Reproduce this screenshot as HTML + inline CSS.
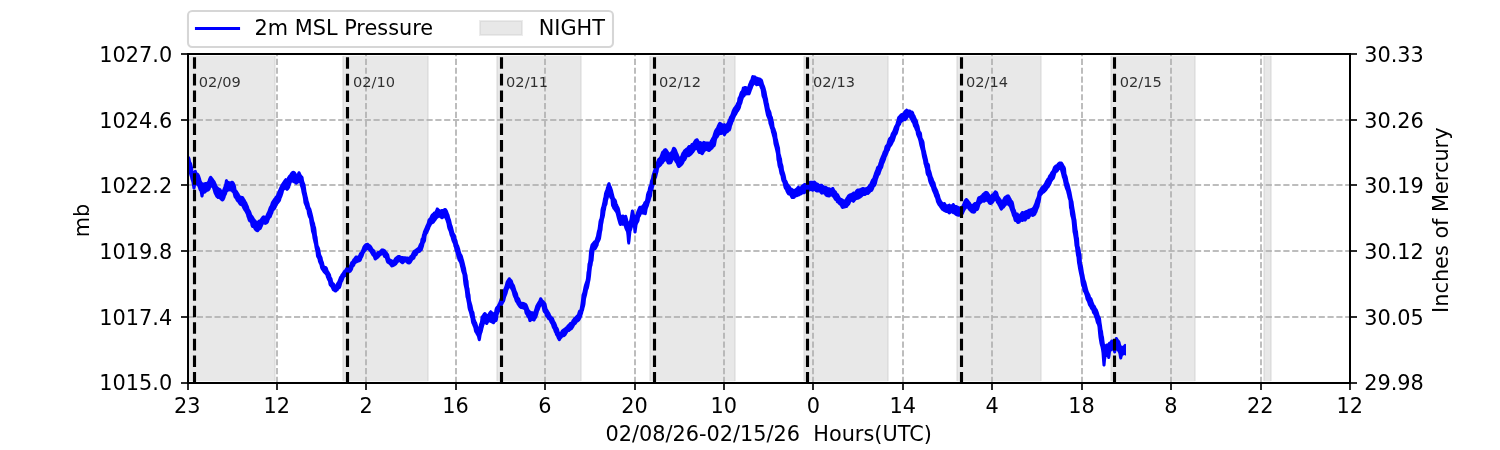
<!DOCTYPE html>
<html lang="en"><head><meta charset="utf-8"><title>2m MSL Pressure</title>
<style>html,body{margin:0;padding:0;background:#fff}body{width:1500px;height:450px;overflow:hidden}svg{display:block}text{font-family:"DejaVu Sans","Liberation Sans",sans-serif;font-size:20.8333px;fill:#000}.d{font-size:14.5833px;fill-opacity:.8}</style></head><body>
<svg width="1500" height="450" viewBox="0 0 1500 450">
<rect x="0" y="0" width="1500" height="450" fill="#fff"/>
<defs><clipPath id="c"><rect x="188" y="54" width="1162" height="329"/></clipPath></defs>
<g clip-path="url(#c)" shape-rendering="crispEdges" fill="#808080" fill-opacity=".18">
<rect x="187" y="56" width="88" height="325"/>
<rect x="187" y="55" width="88" height="1" fill-opacity=".05"/><rect x="187" y="381" width="88" height="1" fill-opacity=".05"/>
<rect x="186" y="56" width="1" height="325" fill-opacity=".15"/><rect x="187" y="56" width="1" height="325" fill-opacity=".1"/>
<rect x="274" y="56" width="1" height="325" fill-opacity=".1"/><rect x="275" y="56" width="1" height="325" fill-opacity=".15"/>
<rect x="343" y="56" width="85" height="325"/>
<rect x="343" y="55" width="85" height="1" fill-opacity=".05"/><rect x="343" y="381" width="85" height="1" fill-opacity=".05"/>
<rect x="342" y="56" width="1" height="325" fill-opacity=".15"/><rect x="343" y="56" width="1" height="325" fill-opacity=".1"/>
<rect x="427" y="56" width="1" height="325" fill-opacity=".1"/><rect x="428" y="56" width="1" height="325" fill-opacity=".15"/>
<rect x="497" y="56" width="84" height="325"/>
<rect x="497" y="55" width="84" height="1" fill-opacity=".05"/><rect x="497" y="381" width="84" height="1" fill-opacity=".05"/>
<rect x="496" y="56" width="1" height="325" fill-opacity=".15"/><rect x="497" y="56" width="1" height="325" fill-opacity=".1"/>
<rect x="580" y="56" width="1" height="325" fill-opacity=".1"/><rect x="581" y="56" width="1" height="325" fill-opacity=".15"/>
<rect x="650" y="56" width="85" height="325"/>
<rect x="650" y="55" width="85" height="1" fill-opacity=".05"/><rect x="650" y="381" width="85" height="1" fill-opacity=".05"/>
<rect x="649" y="56" width="1" height="325" fill-opacity=".15"/><rect x="650" y="56" width="1" height="325" fill-opacity=".1"/>
<rect x="734" y="56" width="1" height="325" fill-opacity=".1"/><rect x="735" y="56" width="1" height="325" fill-opacity=".15"/>
<rect x="804" y="56" width="84" height="325"/>
<rect x="804" y="55" width="84" height="1" fill-opacity=".05"/><rect x="804" y="381" width="84" height="1" fill-opacity=".05"/>
<rect x="803" y="56" width="1" height="325" fill-opacity=".15"/><rect x="804" y="56" width="1" height="325" fill-opacity=".1"/>
<rect x="887" y="56" width="1" height="325" fill-opacity=".1"/><rect x="888" y="56" width="1" height="325" fill-opacity=".15"/>
<rect x="957" y="56" width="84" height="325"/>
<rect x="957" y="55" width="84" height="1" fill-opacity=".05"/><rect x="957" y="381" width="84" height="1" fill-opacity=".05"/>
<rect x="956" y="56" width="1" height="325" fill-opacity=".15"/><rect x="957" y="56" width="1" height="325" fill-opacity=".1"/>
<rect x="1040" y="56" width="1" height="325" fill-opacity=".1"/><rect x="1041" y="56" width="1" height="325" fill-opacity=".15"/>
<rect x="1111" y="56" width="84" height="325"/>
<rect x="1111" y="55" width="84" height="1" fill-opacity=".05"/><rect x="1111" y="381" width="84" height="1" fill-opacity=".05"/>
<rect x="1110" y="56" width="1" height="325" fill-opacity=".15"/><rect x="1111" y="56" width="1" height="325" fill-opacity=".1"/>
<rect x="1194" y="56" width="1" height="325" fill-opacity=".1"/><rect x="1195" y="56" width="1" height="325" fill-opacity=".15"/>
<rect x="1264" y="56" width="7" height="325"/>
<rect x="1264" y="55" width="7" height="1" fill-opacity=".05"/><rect x="1264" y="381" width="7" height="1" fill-opacity=".05"/>
<rect x="1263" y="56" width="1" height="325" fill-opacity=".15"/><rect x="1264" y="56" width="1" height="325" fill-opacity=".1"/>
<rect x="1270" y="56" width="1" height="325" fill-opacity=".1"/><rect x="1271" y="56" width="1" height="325" fill-opacity=".15"/>
</g>
<g clip-path="url(#c)" fill="none" stroke="#b0b0b0" stroke-opacity=".835" stroke-width="2" stroke-dasharray="6.1667 2.6667">
<path d="M188 383V54"/>
<path d="M277 383V54"/>
<path d="M366 383V54"/>
<path d="M456 383V54"/>
<path d="M545 383V54"/>
<path d="M635 383V54"/>
<path d="M724 383V54"/>
<path d="M813 383V54"/>
<path d="M903 383V54"/>
<path d="M992 383V54"/>
<path d="M1082 383V54"/>
<path d="M1171 383V54"/>
<path d="M1261 383V54"/>
<path d="M1350 383V54"/>
<path d="M188 383H1350"/>
<path d="M188 317H1350"/>
<path d="M188 251H1350"/>
<path d="M188 185H1350"/>
<path d="M188 120H1350"/>
<path d="M188 54H1350"/>
</g>
<polygon clip-path="url(#c)" fill="#0000ff" points="186.0,159.5 186.5,157.4 187.0,156.4 187.5,155.9 188.0,155.7 188.5,155.7 189.0,156.1 189.5,156.6 190.0,157.3 190.5,158.5 191.0,161.4 191.5,162.2 192.0,163.3 192.5,165.3 193.0,167.5 193.5,171.2 194.0,170.4 194.5,169.9 195.0,169.7 195.5,169.7 196.0,169.9 196.5,170.3 197.0,171.7 197.5,172.7 198.0,172.8 198.5,173.2 199.0,173.6 199.5,174.4 200.0,175.6 200.5,177.0 201.0,178.5 201.5,180.4 202.0,181.5 202.5,182.2 203.0,182.6 203.5,182.5 204.0,182.4 204.5,182.3 205.0,182.1 205.5,182.1 206.0,182.1 206.5,182.1 207.0,181.5 207.5,181.1 208.0,179.3 208.5,177.9 209.0,177.1 209.5,176.3 210.0,175.9 210.5,175.8 211.0,175.8 211.5,176.0 212.0,176.4 212.5,177.2 213.0,177.7 213.5,178.4 214.0,179.3 214.5,179.9 215.0,180.5 215.5,181.2 216.0,182.4 216.5,183.6 217.0,184.9 217.5,185.9 218.0,186.5 218.5,187.0 219.0,187.4 219.5,187.7 220.0,188.0 220.5,188.3 221.0,188.6 221.5,189.2 222.0,190.3 222.5,188.9 223.0,187.8 223.5,186.6 224.0,185.0 224.5,183.0 225.0,180.0 225.5,179.4 226.0,179.2 226.5,179.1 227.0,179.2 227.5,179.6 228.0,180.5 228.5,181.0 229.0,181.0 229.5,181.2 230.0,181.4 230.5,181.3 231.0,181.0 231.5,180.8 232.0,180.7 232.5,180.8 233.0,180.9 233.5,181.2 234.0,181.8 234.5,182.6 235.0,183.6 235.5,184.8 236.0,186.2 236.5,189.5 237.0,189.9 237.5,190.4 238.0,191.2 238.5,192.2 239.0,192.8 239.5,193.7 240.0,194.7 240.5,195.4 241.0,195.7 241.5,195.8 242.0,196.0 242.5,196.0 243.0,196.1 243.5,196.4 244.0,197.1 244.5,197.9 245.0,198.7 245.5,199.5 246.0,200.6 246.5,201.5 247.0,202.1 247.5,203.2 248.0,204.5 248.5,205.6 249.0,206.8 249.5,208.7 250.0,209.4 250.5,210.3 251.0,211.2 251.5,212.5 252.0,214.2 252.5,214.9 253.0,215.6 253.5,216.3 254.0,217.1 254.5,217.9 255.0,218.7 255.5,219.3 256.0,219.9 256.5,220.4 257.0,220.7 257.5,220.7 258.0,220.2 258.5,219.8 259.0,219.6 259.5,219.4 260.0,218.9 260.5,218.1 261.0,217.4 261.5,216.7 262.0,216.1 262.5,215.7 263.0,215.4 263.5,215.3 264.0,215.4 264.5,215.6 265.0,215.8 265.5,215.6 266.0,213.9 266.5,212.9 267.0,212.0 267.5,210.9 268.0,209.5 268.5,208.0 269.0,206.8 269.5,206.1 270.0,205.3 270.5,203.5 271.0,202.1 271.5,201.3 272.0,200.5 272.5,199.7 273.0,199.0 273.5,198.3 274.0,197.7 274.5,196.9 275.0,196.1 275.5,195.7 276.0,195.3 276.5,193.7 277.0,192.8 277.5,191.3 278.0,190.2 278.5,189.2 279.0,188.1 279.5,187.1 280.0,185.9 280.5,184.8 281.0,183.9 281.5,183.2 282.0,182.5 282.5,181.8 283.0,180.9 283.5,180.2 284.0,179.5 284.5,178.9 285.0,178.3 285.5,178.1 286.0,178.3 286.5,178.5 287.0,177.6 287.5,176.7 288.0,175.8 288.5,175.2 289.0,174.7 289.5,174.3 290.0,173.2 290.5,172.5 291.0,171.9 291.5,171.4 292.0,171.1 292.5,170.9 293.0,170.8 293.5,170.7 294.0,170.9 294.5,171.1 295.0,171.4 295.5,171.8 296.0,172.4 296.5,173.5 297.0,173.7 297.5,172.2 298.0,171.5 298.5,171.2 299.0,171.2 299.5,171.2 300.0,171.5 300.5,172.2 301.0,173.6 301.5,174.6 302.0,175.3 302.5,175.7 303.0,176.2 303.5,177.1 304.0,180.5 304.5,182.0 305.0,183.2 305.5,184.4 306.0,187.9 306.5,191.6 307.0,193.6 307.5,196.0 308.0,197.8 308.5,200.6 309.0,202.1 309.5,203.6 310.0,205.9 310.5,207.4 311.0,208.1 311.5,209.5 312.0,211.5 312.5,213.2 313.0,215.4 313.5,217.4 314.0,220.2 314.5,221.9 315.0,223.1 315.5,225.9 316.0,226.9 316.5,230.3 317.0,235.2 317.5,236.7 318.0,240.9 318.5,245.0 319.0,246.3 319.5,247.1 320.0,248.5 320.5,250.5 321.0,254.1 321.5,255.2 322.0,256.2 322.5,257.3 323.0,259.9 323.5,261.2 324.0,262.5 324.5,265.3 325.0,265.7 325.5,265.9 326.0,266.1 326.5,266.3 327.0,266.7 327.5,267.3 328.0,268.6 328.5,270.2 329.0,270.9 329.5,271.8 330.0,272.7 330.5,273.4 331.0,274.5 331.5,276.9 332.0,277.5 332.5,278.5 333.0,281.0 333.5,282.3 334.0,282.5 334.5,282.9 335.0,283.6 335.5,284.7 336.0,283.6 336.5,282.6 337.0,282.0 337.5,280.9 338.0,279.7 338.5,278.4 339.0,277.0 339.5,276.3 340.0,275.8 340.5,274.4 341.0,273.8 341.5,273.2 342.0,272.4 342.5,271.7 343.0,270.9 343.5,270.2 344.0,269.8 344.5,269.5 345.0,268.6 345.5,267.7 346.0,267.0 346.5,266.7 347.0,266.6 347.5,266.7 348.0,267.0 348.5,266.2 349.0,265.3 349.5,264.6 350.0,262.7 350.5,261.7 351.0,261.2 351.5,261.0 352.0,259.9 352.5,259.1 353.0,258.5 353.5,257.9 354.0,257.2 354.5,256.6 355.0,256.1 355.5,255.6 356.0,255.5 356.5,255.5 357.0,255.6 357.5,255.8 358.0,255.4 358.5,254.4 359.0,253.3 359.5,252.4 360.0,252.0 360.5,251.7 361.0,250.5 361.5,249.3 362.0,247.9 362.5,246.6 363.0,245.8 363.5,245.1 364.0,244.4 364.5,243.9 365.0,243.6 365.5,243.3 366.0,243.1 366.5,242.9 367.0,242.8 367.5,242.7 368.0,242.8 368.5,243.1 369.0,243.5 369.5,244.0 370.0,244.3 370.5,244.6 371.0,245.0 371.5,245.5 372.0,246.2 372.5,247.1 373.0,248.0 373.5,248.8 374.0,249.1 374.5,249.4 375.0,250.0 375.5,251.0 376.0,252.7 376.5,251.9 377.0,251.4 377.5,251.1 378.0,250.9 378.5,250.9 379.0,250.9 379.5,250.3 380.0,249.7 380.5,249.2 381.0,248.8 381.5,248.5 382.0,248.3 382.5,248.4 383.0,248.5 383.5,248.6 384.0,248.8 384.5,249.0 385.0,249.3 385.5,249.6 386.0,250.2 386.5,250.9 387.0,251.4 387.5,252.0 388.0,252.7 388.5,253.4 389.0,254.1 389.5,256.1 390.0,258.2 390.5,258.6 391.0,258.9 391.5,259.1 392.0,259.5 392.5,259.8 393.0,259.5 393.5,259.5 394.0,258.2 394.5,257.6 395.0,257.2 395.5,256.7 396.0,256.3 396.5,255.9 397.0,255.5 397.5,255.3 398.0,255.1 398.5,255.0 399.0,255.0 399.5,255.0 400.0,255.1 400.5,255.4 401.0,255.7 401.5,256.1 402.0,256.1 402.5,256.0 403.0,256.1 403.5,256.2 404.0,256.2 404.5,256.2 405.0,256.3 405.5,256.3 406.0,256.4 406.5,256.5 407.0,256.5 407.5,256.6 408.0,256.6 408.5,256.7 409.0,256.8 409.5,255.7 410.0,255.2 410.5,254.9 411.0,254.3 411.5,252.9 412.0,252.1 412.5,251.3 413.0,250.6 413.5,250.1 414.0,249.8 414.5,249.4 415.0,249.1 415.5,248.7 416.0,248.3 416.5,247.9 417.0,247.6 417.5,247.3 418.0,246.5 418.5,245.0 419.0,244.1 419.5,243.1 420.0,242.5 420.5,238.9 421.0,238.1 421.5,237.4 422.0,234.4 422.5,233.6 423.0,231.3 423.5,230.2 424.0,229.1 424.5,228.0 425.0,226.8 425.5,225.5 426.0,224.6 426.5,223.6 427.0,221.9 427.5,219.8 428.0,218.9 428.5,218.3 429.0,218.0 429.5,217.2 430.0,216.1 430.5,215.1 431.0,214.3 431.5,213.7 432.0,213.3 432.5,212.9 433.0,212.3 433.5,211.8 434.0,211.6 434.5,211.5 435.0,210.4 435.5,209.4 436.0,208.1 436.5,207.6 437.0,207.4 437.5,207.4 438.0,207.6 438.5,207.9 439.0,208.6 439.5,209.0 440.0,209.2 440.5,209.5 441.0,209.3 441.5,209.0 442.0,208.9 442.5,209.1 443.0,208.9 443.5,208.5 444.0,208.2 444.5,207.9 445.0,207.9 445.5,208.0 446.0,208.2 446.5,208.6 447.0,209.2 447.5,210.0 448.0,211.1 448.5,212.4 449.0,213.7 449.5,214.7 450.0,216.9 450.5,218.5 451.0,219.7 451.5,222.1 452.0,224.4 452.5,225.6 453.0,227.2 453.5,229.3 454.0,231.2 454.5,233.0 455.0,233.6 455.5,234.3 456.0,235.6 456.5,238.4 457.0,239.3 457.5,240.6 458.0,243.0 458.5,244.4 459.0,245.3 459.5,246.7 460.0,248.2 460.5,250.3 461.0,251.9 461.5,253.4 462.0,254.3 462.5,255.1 463.0,256.5 463.5,258.4 464.0,259.9 464.5,261.9 465.0,264.1 465.5,266.2 466.0,267.9 466.5,271.2 467.0,273.6 467.5,274.9 468.0,279.5 468.5,280.8 469.0,286.9 469.5,288.2 470.0,293.1 470.5,294.8 471.0,300.3 471.5,302.0 472.0,303.7 472.5,305.5 473.0,308.1 473.5,310.5 474.0,311.2 474.5,312.5 475.0,316.3 475.5,319.0 476.0,320.3 476.5,321.4 477.0,322.2 477.5,323.7 478.0,325.4 478.5,326.9 479.0,324.3 479.5,322.9 480.0,321.8 480.5,317.5 481.0,316.1 481.5,315.4 482.0,314.9 482.5,314.1 483.0,313.2 483.5,312.7 484.0,312.2 484.5,312.0 485.0,311.9 485.5,312.2 486.0,312.6 486.5,313.0 487.0,314.1 487.5,314.0 488.0,313.1 488.5,312.2 489.0,311.4 489.5,310.9 490.0,310.4 490.5,310.1 491.0,310.2 491.5,310.5 492.0,311.0 492.5,311.4 493.0,311.8 493.5,312.1 494.0,312.4 494.5,309.6 495.0,307.8 495.5,306.9 496.0,306.3 496.5,306.1 497.0,305.2 497.5,304.0 498.0,303.3 498.5,302.1 499.0,300.7 499.5,299.2 500.0,297.8 500.5,297.1 501.0,296.3 501.5,294.9 502.0,293.9 502.5,291.8 503.0,289.8 503.5,288.6 504.0,287.4 504.5,286.0 505.0,284.4 505.5,282.2 506.0,281.1 506.5,280.3 507.0,279.6 507.5,278.8 508.0,277.8 508.5,277.4 509.0,277.2 509.5,277.2 510.0,277.3 510.5,277.7 511.0,278.4 511.5,278.9 512.0,279.4 512.5,280.1 513.0,281.3 513.5,282.9 514.0,283.7 514.5,284.5 515.0,285.6 515.5,287.2 516.0,288.8 516.5,290.6 517.0,291.6 517.5,292.6 518.0,293.7 518.5,296.3 519.0,297.2 519.5,297.6 520.0,298.3 520.5,299.6 521.0,301.1 521.5,301.8 522.0,301.9 522.5,301.7 523.0,301.8 523.5,301.9 524.0,302.0 524.5,302.2 525.0,302.5 525.5,302.7 526.0,302.9 526.5,303.2 527.0,303.7 527.5,304.6 528.0,305.7 528.5,307.1 529.0,308.6 529.5,309.6 530.0,310.3 530.5,310.5 531.0,311.0 531.5,311.2 532.0,311.1 532.5,311.2 533.0,311.5 533.5,311.6 534.0,310.1 534.5,308.4 535.0,306.8 535.5,305.2 536.0,304.4 536.5,303.6 537.0,302.7 537.5,301.8 538.0,301.2 538.5,300.3 539.0,298.8 539.5,297.7 540.0,297.3 540.5,297.2 541.0,297.2 541.5,297.4 542.0,297.8 542.5,298.8 543.0,299.7 543.5,300.0 544.0,300.4 544.5,301.0 545.0,301.6 545.5,302.2 546.0,302.8 546.5,303.8 547.0,306.2 547.5,308.4 548.0,309.2 548.5,309.9 549.0,311.1 549.5,311.8 550.0,312.5 550.5,313.6 551.0,314.7 551.5,315.6 552.0,316.4 552.5,316.6 553.0,316.9 553.5,317.5 554.0,318.3 554.5,319.7 555.0,321.1 555.5,321.7 556.0,322.6 556.5,323.7 557.0,324.9 557.5,326.8 558.0,327.2 558.5,327.9 559.0,329.3 559.5,331.5 560.0,332.0 560.5,331.3 561.0,330.3 561.5,329.7 562.0,329.2 562.5,328.9 563.0,328.6 563.5,328.3 564.0,328.0 564.5,327.6 565.0,327.1 565.5,326.6 566.0,326.4 566.5,325.4 567.0,324.8 567.5,324.5 568.0,323.9 568.5,323.4 569.0,322.8 569.5,322.3 570.0,321.9 570.5,321.7 571.0,321.7 571.5,320.3 572.0,319.5 572.5,318.9 573.0,318.2 573.5,317.5 574.0,317.1 574.5,316.7 575.0,316.2 575.5,315.7 576.0,315.2 576.5,314.7 577.0,314.2 577.5,312.4 578.0,310.9 578.5,310.1 579.0,309.7 579.5,309.4 580.0,306.8 580.5,303.7 581.0,299.9 581.5,294.8 582.0,293.6 582.5,292.0 583.0,289.6 583.5,287.0 584.0,285.1 584.5,283.5 585.0,281.9 585.5,280.8 586.0,278.2 586.5,272.3 587.0,270.2 587.5,263.7 588.0,262.5 588.5,259.1 589.0,252.1 589.5,248.9 590.0,247.0 590.5,244.8 591.0,243.8 591.5,243.2 592.0,242.7 592.5,242.0 593.0,241.4 593.5,240.8 594.0,240.4 594.5,240.2 595.0,238.9 595.5,237.3 596.0,236.1 596.5,232.9 597.0,230.8 597.5,229.3 598.0,225.7 598.5,221.5 599.0,219.5 599.5,218.5 600.0,215.7 600.5,209.7 601.0,207.5 601.5,206.2 602.0,203.8 602.5,201.7 603.0,198.6 603.5,197.0 604.0,193.5 604.5,191.8 605.0,190.4 605.5,189.4 606.0,187.2 606.5,185.9 607.0,184.5 607.5,183.1 608.0,182.5 608.5,182.2 609.0,182.1 609.5,182.2 610.0,182.5 610.5,183.2 611.0,185.2 611.5,186.0 612.0,187.2 612.5,188.8 613.0,190.2 613.5,192.4 614.0,194.6 614.5,196.4 615.0,198.0 615.5,198.5 616.0,199.0 616.5,199.7 617.0,201.0 617.5,203.7 618.0,204.2 618.5,205.7 619.0,206.5 619.5,207.4 620.0,208.9 620.5,211.4 621.0,214.2 621.5,214.9 622.0,214.8 622.5,214.5 623.0,214.4 623.5,214.6 624.0,215.0 624.5,215.3 625.0,214.9 625.5,214.8 626.0,214.8 626.5,215.0 627.0,215.4 627.5,217.3 628.0,219.1 628.5,221.6 629.0,220.9 629.5,219.1 630.0,215.9 630.5,212.8 631.0,210.3 631.5,209.7 632.0,209.5 632.5,209.5 633.0,209.6 633.5,209.9 634.0,210.8 634.5,213.3 635.0,215.0 635.5,214.6 636.0,212.7 636.5,211.0 637.0,210.0 637.5,208.7 638.0,207.5 638.5,206.6 639.0,206.1 639.5,205.8 640.0,205.7 640.5,205.7 641.0,205.7 641.5,205.4 642.0,204.8 642.5,204.2 643.0,203.5 643.5,202.1 644.0,201.4 644.5,200.9 645.0,200.4 645.5,198.1 646.0,194.5 646.5,192.8 647.0,191.5 647.5,190.7 648.0,188.1 648.5,186.2 649.0,185.4 649.5,184.1 650.0,180.8 650.5,179.4 651.0,178.3 651.5,175.2 652.0,173.7 652.5,172.3 653.0,170.6 653.5,169.3 654.0,167.1 654.5,165.4 655.0,163.7 655.5,162.7 656.0,162.1 656.5,160.9 657.0,159.6 657.5,158.6 658.0,158.1 658.5,157.7 659.0,157.3 659.5,156.5 660.0,155.3 660.5,153.8 661.0,152.3 661.5,151.3 662.0,150.7 662.5,150.4 663.0,149.8 663.5,149.1 664.0,148.6 664.5,148.4 665.0,148.2 665.5,148.1 666.0,148.2 666.5,148.4 667.0,148.8 667.5,149.5 668.0,150.3 668.5,151.1 669.0,151.8 669.5,152.6 670.0,152.1 670.5,151.4 671.0,151.0 671.5,149.7 672.0,148.2 672.5,147.3 673.0,146.9 673.5,146.7 674.0,146.7 674.5,146.9 675.0,147.2 675.5,147.6 676.0,148.2 676.5,148.9 677.0,150.1 677.5,151.6 678.0,152.7 678.5,153.7 679.0,155.1 679.5,156.6 680.0,156.5 680.5,155.6 681.0,154.0 681.5,152.8 682.0,152.1 682.5,151.4 683.0,150.6 683.5,149.8 684.0,149.3 684.5,149.0 685.0,148.5 685.5,148.1 686.0,147.7 686.5,147.4 687.0,146.7 687.5,146.1 688.0,145.5 688.5,145.1 689.0,145.1 689.5,145.1 690.0,144.9 690.5,144.0 691.0,143.3 691.5,143.0 692.0,143.0 692.5,142.7 693.0,141.8 693.5,141.1 694.0,140.3 694.5,139.6 695.0,139.1 695.5,138.8 696.0,138.5 696.5,138.3 697.0,138.2 697.5,138.3 698.0,138.6 698.5,139.2 699.0,140.0 699.5,141.0 700.0,141.2 700.5,141.1 701.0,141.1 701.5,141.4 702.0,142.1 702.5,141.4 703.0,140.9 703.5,140.8 704.0,140.9 704.5,141.0 705.0,141.2 705.5,141.4 706.0,141.4 706.5,141.5 707.0,141.6 707.5,141.6 708.0,141.6 708.5,141.6 709.0,141.7 709.5,141.4 710.0,140.3 710.5,139.4 711.0,138.5 711.5,137.6 712.0,136.9 712.5,135.6 713.0,133.8 713.5,132.3 714.0,130.8 714.5,129.7 715.0,129.0 715.5,128.3 716.0,127.8 716.5,126.4 717.0,125.3 717.5,124.3 718.0,123.3 718.5,122.5 719.0,121.9 719.5,121.7 720.0,121.8 720.5,121.9 721.0,122.2 721.5,122.5 722.0,122.9 722.5,123.2 723.0,123.6 723.5,123.5 724.0,123.2 724.5,123.1 725.0,123.4 725.5,123.7 726.0,123.6 726.5,123.0 727.0,122.1 727.5,120.8 728.0,119.5 728.5,118.4 729.0,116.9 729.5,116.1 730.0,115.4 730.5,114.2 731.0,112.9 731.5,111.2 732.0,109.9 732.5,109.0 733.0,108.1 733.5,107.3 734.0,106.8 734.5,106.0 735.0,105.3 735.5,104.4 736.0,103.3 736.5,102.2 737.0,101.5 737.5,98.0 738.0,96.9 738.5,96.2 739.0,94.8 739.5,92.9 740.0,91.7 740.5,91.0 741.0,90.7 741.5,89.3 742.0,87.1 742.5,86.7 743.0,86.5 743.5,86.4 744.0,86.2 744.5,86.0 745.0,85.9 745.5,86.0 746.0,86.1 746.5,86.3 747.0,86.6 747.5,86.5 748.0,84.4 748.5,83.2 749.0,82.2 749.5,80.8 750.0,79.9 750.5,79.2 751.0,77.0 751.5,75.7 752.0,75.3 752.5,75.1 753.0,75.1 753.5,75.3 754.0,75.4 754.5,75.3 755.0,75.4 755.5,75.6 756.0,75.9 756.5,76.4 757.0,76.7 757.5,76.8 758.0,77.0 758.5,77.2 759.0,77.3 759.5,77.5 760.0,77.6 760.5,77.8 761.0,78.0 761.5,78.4 762.0,78.8 762.5,79.3 763.0,80.2 763.5,81.9 764.0,83.9 764.5,84.9 765.0,86.2 765.5,87.8 766.0,89.7 766.5,91.6 767.0,94.6 767.5,97.0 768.0,98.7 768.5,102.4 769.0,103.8 769.5,107.1 770.0,109.0 770.5,110.0 771.0,110.9 771.5,112.6 772.0,115.4 772.5,116.3 773.0,117.5 773.5,120.5 774.0,121.9 774.5,126.5 775.0,127.8 775.5,128.8 776.0,130.5 776.5,131.8 777.0,133.4 777.5,138.0 778.0,139.4 778.5,142.1 779.0,143.9 779.5,145.9 780.0,147.7 780.5,153.5 781.0,155.1 781.5,157.2 782.0,158.5 782.5,162.8 783.0,164.3 783.5,166.1 784.0,169.9 784.5,171.5 785.0,172.9 785.5,174.7 786.0,176.9 786.5,179.7 787.0,180.3 787.5,181.0 788.0,182.4 788.5,183.5 789.0,184.2 789.5,184.8 790.0,185.5 790.5,186.1 791.0,186.7 791.5,187.7 792.0,187.8 792.5,188.0 793.0,188.5 793.5,188.8 794.0,189.0 794.5,188.7 795.0,188.4 795.5,188.0 796.0,187.7 796.5,187.0 797.0,186.4 797.5,185.9 798.0,185.6 798.5,185.6 799.0,185.8 799.5,186.2 800.0,186.8 800.5,185.9 801.0,185.3 801.5,185.0 802.0,184.6 802.5,184.2 803.0,183.8 803.5,183.4 804.0,183.1 804.5,183.0 805.0,183.1 805.5,183.3 806.0,182.9 806.5,182.5 807.0,182.1 807.5,181.9 808.0,181.6 808.5,181.4 809.0,181.2 809.5,181.0 810.0,180.8 810.5,180.7 811.0,180.7 811.5,180.7 812.0,180.7 812.5,180.8 813.0,180.7 813.5,180.7 814.0,180.6 814.5,180.6 815.0,180.7 815.5,181.0 816.0,181.5 816.5,182.0 817.0,182.5 817.5,182.6 818.0,182.7 818.5,183.1 819.0,183.5 819.5,183.9 820.0,183.9 820.5,183.8 821.0,183.7 821.5,183.7 822.0,183.8 822.5,184.1 823.0,184.5 823.5,184.9 824.0,185.3 824.5,185.7 825.0,185.9 825.5,185.8 826.0,185.8 826.5,186.1 827.0,186.4 827.5,186.7 828.0,187.0 828.5,187.2 829.0,187.2 829.5,187.2 830.0,187.4 830.5,187.8 831.0,187.9 831.5,187.5 832.0,187.1 832.5,186.9 833.0,186.9 833.5,187.1 834.0,187.6 834.5,188.4 835.0,189.5 835.5,190.3 836.0,190.5 836.5,190.9 837.0,191.7 837.5,192.9 838.0,193.3 838.5,193.6 839.0,194.2 839.5,195.2 840.0,196.3 840.5,197.3 841.0,197.8 841.5,197.9 842.0,198.1 842.5,198.4 843.0,198.7 843.5,199.1 844.0,199.5 844.5,199.6 845.0,198.8 845.5,197.9 846.0,197.1 846.5,196.4 847.0,195.6 847.5,194.8 848.0,194.4 848.5,194.0 849.0,193.7 849.5,193.5 850.0,193.3 850.5,193.2 851.0,193.1 851.5,192.7 852.0,192.4 852.5,192.0 853.0,191.6 853.5,191.4 854.0,191.6 854.5,191.7 855.0,190.8 855.5,189.9 856.0,189.4 856.5,189.1 857.0,188.8 857.5,188.5 858.0,188.4 858.5,188.4 859.0,188.4 859.5,188.3 860.0,188.2 860.5,187.9 861.0,187.6 861.5,187.4 862.0,187.2 862.5,187.0 863.0,187.0 863.5,187.1 864.0,187.2 864.5,187.3 865.0,187.4 865.5,187.3 866.0,187.1 866.5,186.9 867.0,186.6 867.5,186.1 868.0,185.2 868.5,184.6 869.0,184.1 869.5,183.4 870.0,182.0 870.5,180.9 871.0,179.8 871.5,179.0 872.0,178.6 872.5,177.7 873.0,176.0 873.5,174.7 874.0,173.1 874.5,171.8 875.0,170.5 875.5,169.4 876.0,167.6 876.5,166.6 877.0,166.0 877.5,165.7 878.0,164.8 878.5,162.8 879.0,161.8 879.5,159.6 880.0,158.5 880.5,157.3 881.0,156.1 881.5,155.0 882.0,153.8 882.5,152.2 883.0,151.1 883.5,150.4 884.0,148.9 884.5,146.4 885.0,145.4 885.5,144.8 886.0,144.4 886.5,143.6 887.0,141.6 887.5,140.1 888.0,138.6 888.5,137.7 889.0,137.2 889.5,136.8 890.0,136.2 890.5,134.2 891.0,133.0 891.5,132.2 892.0,131.5 892.5,130.5 893.0,129.3 893.5,127.8 894.0,126.4 894.5,125.6 895.0,124.8 895.5,123.8 896.0,121.5 896.5,120.4 897.0,117.8 897.5,116.7 898.0,116.1 898.5,115.7 899.0,115.1 899.5,114.6 900.0,114.1 900.5,113.6 901.0,113.3 901.5,113.1 902.0,113.0 902.5,113.0 903.0,112.2 903.5,111.1 904.0,110.4 904.5,110.0 905.0,109.5 905.5,109.2 906.0,108.8 906.5,108.6 907.0,108.6 907.5,109.0 908.0,109.3 908.5,109.6 909.0,109.6 909.5,109.6 910.0,109.6 910.5,109.7 911.0,110.0 911.5,110.5 912.0,110.7 912.5,110.6 913.0,110.9 913.5,111.4 914.0,112.3 914.5,114.0 915.0,114.8 915.5,115.6 916.0,116.9 916.5,118.1 917.0,119.2 917.5,119.9 918.0,121.1 918.5,123.7 919.0,124.7 919.5,126.2 920.0,128.8 920.5,130.9 921.0,131.4 921.5,132.1 922.0,133.6 922.5,137.7 923.0,138.4 923.5,139.5 924.0,140.6 924.5,141.9 925.0,146.6 925.5,149.5 926.0,151.0 926.5,153.8 927.0,155.6 927.5,157.8 928.0,159.8 928.5,162.7 929.0,163.1 929.5,163.8 930.0,164.9 930.5,169.3 931.0,170.5 931.5,172.1 932.0,174.1 932.5,176.0 933.0,177.3 933.5,178.3 934.0,179.9 934.5,181.1 935.0,181.7 935.5,182.8 936.0,185.2 936.5,187.0 937.0,188.0 937.5,188.9 938.0,189.9 938.5,191.3 939.0,193.3 939.5,194.1 940.0,195.5 940.5,197.7 941.0,199.1 941.5,200.1 942.0,200.9 942.5,201.6 943.0,202.3 943.5,202.3 944.0,202.1 944.5,202.0 945.0,202.1 945.5,202.6 946.0,203.3 946.5,204.0 947.0,204.4 947.5,204.3 948.0,204.1 948.5,203.9 949.0,203.6 949.5,203.6 950.0,203.8 950.5,204.2 951.0,204.6 951.5,204.3 952.0,203.8 952.5,203.3 953.0,202.9 953.5,202.9 954.0,203.1 954.5,203.8 955.0,204.6 955.5,204.9 956.0,204.9 956.5,205.0 957.0,205.3 957.5,205.5 958.0,205.8 958.5,206.0 959.0,206.2 959.5,206.4 960.0,206.4 960.5,206.6 961.0,206.3 961.5,205.5 962.0,204.5 962.5,203.4 963.0,201.9 963.5,200.9 964.0,200.1 964.5,199.3 965.0,198.7 965.5,198.3 966.0,198.0 966.5,198.0 967.0,198.1 967.5,198.4 968.0,198.9 968.5,199.6 969.0,200.1 969.5,201.1 970.0,201.5 970.5,202.0 971.0,202.7 971.5,203.8 972.0,204.0 972.5,203.7 973.0,203.3 973.5,202.8 974.0,202.3 974.5,202.0 975.0,202.1 975.5,202.0 976.0,201.4 976.5,199.9 977.0,198.1 977.5,197.0 978.0,196.4 978.5,196.2 979.0,196.1 979.5,196.0 980.0,195.6 980.5,195.2 981.0,194.7 981.5,194.2 982.0,193.6 982.5,193.1 983.0,192.7 983.5,192.2 984.0,191.8 984.5,191.4 985.0,191.1 985.5,190.9 986.0,190.8 986.5,190.9 987.0,191.0 987.5,191.2 988.0,191.5 988.5,192.1 989.0,192.8 989.5,193.5 990.0,194.3 990.5,195.1 991.0,194.2 991.5,193.7 992.0,193.4 992.5,193.2 993.0,192.6 993.5,191.8 994.0,191.2 994.5,190.6 995.0,190.3 995.5,190.3 996.0,190.4 996.5,190.7 997.0,191.0 997.5,191.6 998.0,192.3 998.5,193.8 999.0,195.8 999.5,196.4 1000.0,197.0 1000.5,197.9 1001.0,198.6 1001.5,199.3 1002.0,200.1 1002.5,199.1 1003.0,198.0 1003.5,196.9 1004.0,196.4 1004.5,196.0 1005.0,195.7 1005.5,195.4 1006.0,195.1 1006.5,194.8 1007.0,194.6 1007.5,194.4 1008.0,194.3 1008.5,194.4 1009.0,194.6 1009.5,195.1 1010.0,195.7 1010.5,196.7 1011.0,197.7 1011.5,198.6 1012.0,199.7 1012.5,200.2 1013.0,200.7 1013.5,201.6 1014.0,203.2 1014.5,205.8 1015.0,208.4 1015.5,209.2 1016.0,210.4 1016.5,212.2 1017.0,212.5 1017.5,212.4 1018.0,212.6 1018.5,213.1 1019.0,214.0 1019.5,213.8 1020.0,213.2 1020.5,212.5 1021.0,211.8 1021.5,211.3 1022.0,211.0 1022.5,210.9 1023.0,211.0 1023.5,211.3 1024.0,211.3 1024.5,210.7 1025.0,210.4 1025.5,210.3 1026.0,210.1 1026.5,209.9 1027.0,209.7 1027.5,209.5 1028.0,209.1 1028.5,208.8 1029.0,208.7 1029.5,208.6 1030.0,208.4 1030.5,208.3 1031.0,208.1 1031.5,208.0 1032.0,207.5 1032.5,206.9 1033.0,206.2 1033.5,205.1 1034.0,204.1 1034.5,202.7 1035.0,200.9 1035.5,199.4 1036.0,198.5 1036.5,197.3 1037.0,195.8 1037.5,192.3 1038.0,191.1 1038.5,190.4 1039.0,189.7 1039.5,188.9 1040.0,188.0 1040.5,187.2 1041.0,186.4 1041.5,185.9 1042.0,185.6 1042.5,185.2 1043.0,184.7 1043.5,184.0 1044.0,183.3 1044.5,182.3 1045.0,181.1 1045.5,180.2 1046.0,179.4 1046.5,178.6 1047.0,178.0 1047.5,177.6 1048.0,176.0 1048.5,175.0 1049.0,174.5 1049.5,173.9 1050.0,172.7 1050.5,171.9 1051.0,171.3 1051.5,170.7 1052.0,169.7 1052.5,168.4 1053.0,167.0 1053.5,166.2 1054.0,165.7 1054.5,165.2 1055.0,164.8 1055.5,164.5 1056.0,164.5 1056.5,164.0 1057.0,163.3 1057.5,162.7 1058.0,162.2 1058.5,161.9 1059.0,161.6 1059.5,161.5 1060.0,161.4 1060.5,161.4 1061.0,161.4 1061.5,161.5 1062.0,161.8 1062.5,162.1 1063.0,162.7 1063.5,163.5 1064.0,164.4 1064.5,165.5 1065.0,166.1 1065.5,167.0 1066.0,168.6 1066.5,173.7 1067.0,175.0 1067.5,176.2 1068.0,178.6 1068.5,181.3 1069.0,183.0 1069.5,184.1 1070.0,186.0 1070.5,188.3 1071.0,190.3 1071.5,192.3 1072.0,195.1 1072.5,197.7 1073.0,200.0 1073.5,201.4 1074.0,205.5 1074.5,208.5 1075.0,211.2 1075.5,214.2 1076.0,218.1 1076.5,220.1 1077.0,225.3 1077.5,229.4 1078.0,231.6 1078.5,236.6 1079.0,238.2 1079.5,245.9 1080.0,246.9 1080.5,249.2 1081.0,252.4 1081.5,254.5 1082.0,263.4 1082.5,264.7 1083.0,266.6 1083.5,269.7 1084.0,273.0 1084.5,275.1 1085.0,277.9 1085.5,279.9 1086.0,281.0 1086.5,282.8 1087.0,285.0 1087.5,287.0 1088.0,288.9 1088.5,290.7 1089.0,292.0 1089.5,293.1 1090.0,294.1 1090.5,295.1 1091.0,297.0 1091.5,297.3 1092.0,297.8 1092.5,298.7 1093.0,300.2 1093.5,301.9 1094.0,303.0 1094.5,304.5 1095.0,305.1 1095.5,305.6 1096.0,306.4 1096.5,307.8 1097.0,308.4 1097.5,309.1 1098.0,310.3 1098.5,311.6 1099.0,313.1 1099.5,314.9 1100.0,315.9 1100.5,317.0 1101.0,318.3 1101.5,322.4 1102.0,325.4 1102.5,329.5 1103.0,331.1 1103.5,335.3 1104.0,337.1 1104.5,341.2 1105.0,344.4 1105.5,344.1 1106.0,343.7 1106.5,343.5 1107.0,343.4 1107.5,343.5 1108.0,342.8 1108.5,342.1 1109.0,341.7 1109.5,341.7 1110.0,341.0 1110.5,340.3 1111.0,339.8 1111.5,339.5 1112.0,339.4 1112.5,339.5 1113.0,339.8 1113.5,340.3 1114.0,340.1 1114.5,339.8 1115.0,337.6 1115.5,337.2 1116.0,337.0 1116.5,337.0 1117.0,337.1 1117.5,337.5 1118.0,338.3 1118.5,339.2 1119.0,339.7 1119.5,340.3 1120.0,340.9 1120.5,342.0 1121.0,344.4 1121.5,345.6 1122.0,345.9 1122.5,345.8 1123.0,345.7 1123.5,345.1 1124.0,344.4 1124.5,344.0 1125.0,343.8 1125.5,343.9 1126.0,344.2 1126.0,355.8 1125.5,355.6 1125.0,355.3 1124.5,355.1 1124.0,355.2 1123.5,355.4 1123.0,355.4 1122.5,357.0 1122.0,358.9 1121.5,359.3 1121.0,359.5 1120.5,359.5 1120.0,359.4 1119.5,359.0 1119.0,357.4 1118.5,354.0 1118.0,352.6 1117.5,351.7 1117.0,350.7 1116.5,350.4 1116.0,352.8 1115.5,353.3 1115.0,353.5 1114.5,353.5 1114.0,353.4 1113.5,353.0 1113.0,351.8 1112.5,350.5 1112.0,350.7 1111.5,351.2 1111.0,352.0 1110.5,356.0 1110.0,358.4 1109.5,358.8 1109.0,359.0 1108.5,359.0 1108.0,358.9 1107.5,358.5 1107.0,356.9 1106.5,356.9 1106.0,360.0 1105.5,365.5 1105.0,366.2 1104.5,366.5 1104.0,366.6 1103.5,366.5 1103.0,366.2 1102.5,365.5 1102.0,359.7 1101.5,353.0 1101.0,349.6 1100.5,347.0 1100.0,345.5 1099.5,343.4 1099.0,340.4 1098.5,337.4 1098.0,332.8 1097.5,327.0 1097.0,324.7 1096.5,323.9 1096.0,323.0 1095.5,321.3 1095.0,319.0 1094.5,318.0 1094.0,316.5 1093.5,315.0 1093.0,314.3 1092.5,313.7 1092.0,312.7 1091.5,310.8 1091.0,310.1 1090.5,309.6 1090.0,308.7 1089.5,307.5 1089.0,306.7 1088.5,306.1 1088.0,305.2 1087.5,303.5 1087.0,301.9 1086.5,301.1 1086.0,300.3 1085.5,298.9 1085.0,296.5 1084.5,295.1 1084.0,293.4 1083.5,292.6 1083.0,291.8 1082.5,290.4 1082.0,287.6 1081.5,286.7 1081.0,285.0 1080.5,282.3 1080.0,277.9 1079.5,275.7 1079.0,273.4 1078.5,271.0 1078.0,268.6 1077.5,265.2 1077.0,262.8 1076.5,257.2 1076.0,255.5 1075.5,251.5 1075.0,247.5 1074.5,245.8 1074.0,240.2 1073.5,237.0 1073.0,234.1 1072.5,232.1 1072.0,225.4 1071.5,220.6 1071.0,218.0 1070.5,216.4 1070.0,214.3 1069.5,209.5 1069.0,207.9 1068.5,200.5 1068.0,199.2 1067.5,197.4 1067.0,194.9 1066.5,193.2 1066.0,191.1 1065.5,190.1 1065.0,188.7 1064.5,187.2 1064.0,185.2 1063.5,183.2 1063.0,180.8 1062.5,178.7 1062.0,177.7 1061.5,175.8 1061.0,173.4 1060.5,172.1 1060.0,170.0 1059.5,170.0 1059.0,170.8 1058.5,171.6 1058.0,172.2 1057.5,172.5 1057.0,172.8 1056.5,173.0 1056.0,174.4 1055.5,176.3 1055.0,178.0 1054.5,179.1 1054.0,179.7 1053.5,180.0 1053.0,180.8 1052.5,181.4 1052.0,182.3 1051.5,183.9 1051.0,184.8 1050.5,185.5 1050.0,186.5 1049.5,187.4 1049.0,188.0 1048.5,188.6 1048.0,189.3 1047.5,190.0 1047.0,190.7 1046.5,191.3 1046.0,191.7 1045.5,192.2 1045.0,192.8 1044.5,193.2 1044.0,193.5 1043.5,193.7 1043.0,194.2 1042.5,194.9 1042.0,195.4 1041.5,195.9 1041.0,199.7 1040.5,202.4 1040.0,204.1 1039.5,206.8 1039.0,207.9 1038.5,208.9 1038.0,210.3 1037.5,211.9 1037.0,212.9 1036.5,213.7 1036.0,215.2 1035.5,215.6 1035.0,215.8 1034.5,216.3 1034.0,216.6 1033.5,216.8 1033.0,216.9 1032.5,216.9 1032.0,216.7 1031.5,216.5 1031.0,216.4 1030.5,217.3 1030.0,218.3 1029.5,218.8 1029.0,219.1 1028.5,219.2 1028.0,219.3 1027.5,219.3 1027.0,220.0 1026.5,220.7 1026.0,221.3 1025.5,221.6 1025.0,221.7 1024.5,221.4 1024.0,221.2 1023.5,221.6 1023.0,222.0 1022.5,222.1 1022.0,222.0 1021.5,221.8 1021.0,222.1 1020.5,222.8 1020.0,223.4 1019.5,223.6 1019.0,223.8 1018.5,223.9 1018.0,224.0 1017.5,224.0 1017.0,223.7 1016.5,223.2 1016.0,222.6 1015.5,222.0 1015.0,222.1 1014.5,221.8 1014.0,221.2 1013.5,220.0 1013.0,217.8 1012.5,216.7 1012.0,215.9 1011.5,214.1 1011.0,212.5 1010.5,211.3 1010.0,210.1 1009.5,208.5 1009.0,206.9 1008.5,206.6 1008.0,205.8 1007.5,205.4 1007.0,205.5 1006.5,205.6 1006.0,206.2 1005.5,206.8 1005.0,207.6 1004.5,208.3 1004.0,208.6 1003.5,208.8 1003.0,209.4 1002.5,209.9 1002.0,210.4 1001.5,210.7 1001.0,210.7 1000.5,210.4 1000.0,209.8 999.5,209.0 999.0,207.9 998.5,206.7 998.0,205.9 997.5,205.1 997.0,204.0 996.5,203.6 996.0,202.8 995.5,201.2 995.0,201.1 994.5,201.8 994.0,202.6 993.5,203.2 993.0,203.7 992.5,204.1 992.0,204.5 991.5,204.7 991.0,204.9 990.5,204.9 990.0,204.9 989.5,204.8 989.0,204.6 988.5,204.2 988.0,203.5 987.5,202.4 987.0,201.9 986.5,201.8 986.0,201.8 985.5,202.1 985.0,202.5 984.5,202.8 984.0,202.8 983.5,202.7 983.0,202.6 982.5,202.7 982.0,203.3 981.5,203.7 981.0,204.1 980.5,204.7 980.0,206.3 979.5,208.1 979.0,209.4 978.5,210.3 978.0,210.7 977.5,211.0 977.0,211.0 976.5,211.2 976.0,212.4 975.5,213.1 975.0,213.5 974.5,213.6 974.0,213.7 973.5,213.7 973.0,213.6 972.5,213.6 972.0,213.5 971.5,213.2 971.0,212.9 970.5,212.4 970.0,212.0 969.5,211.5 969.0,211.0 968.5,210.5 968.0,209.9 967.5,209.1 967.0,208.6 966.5,208.9 966.0,209.4 965.5,210.2 965.0,211.3 964.5,212.3 964.0,213.4 963.5,214.4 963.0,215.0 962.5,215.3 962.0,215.2 961.5,215.0 961.0,215.7 960.5,216.3 960.0,216.6 959.5,216.7 959.0,216.8 958.5,216.8 958.0,216.7 957.5,216.6 957.0,216.4 956.5,216.2 956.0,215.9 955.5,215.7 955.0,215.4 954.5,214.9 954.0,214.4 953.5,214.3 953.0,214.2 952.5,213.9 952.0,213.6 951.5,213.3 951.0,213.5 950.5,213.9 950.0,214.3 949.5,214.5 949.0,214.5 948.5,214.2 948.0,213.7 947.5,213.2 947.0,213.0 946.5,213.0 946.0,213.0 945.5,212.8 945.0,212.5 944.5,212.3 944.0,212.0 943.5,211.7 943.0,211.4 942.5,211.1 942.0,210.8 941.5,210.5 941.0,209.9 940.5,209.1 940.0,208.4 939.5,207.8 939.0,207.1 938.5,206.2 938.0,205.8 937.5,205.1 937.0,204.1 936.5,203.0 936.0,201.9 935.5,199.8 935.0,198.1 934.5,197.2 934.0,196.0 933.5,194.3 933.0,193.3 932.5,192.1 932.0,191.0 931.5,189.6 931.0,187.4 930.5,186.8 930.0,185.9 929.5,184.8 929.0,183.6 928.5,182.3 928.0,180.4 927.5,177.7 927.0,176.2 926.5,175.7 926.0,174.7 925.5,172.9 925.0,168.7 924.5,167.5 924.0,165.2 923.5,163.9 923.0,160.4 922.5,158.8 922.0,156.8 921.5,154.1 921.0,151.1 920.5,149.4 920.0,147.5 919.5,146.1 919.0,143.7 918.5,141.3 918.0,139.6 917.5,137.9 917.0,136.9 916.5,135.7 916.0,134.4 915.5,131.2 915.0,130.5 914.5,129.3 914.0,127.8 913.5,127.2 913.0,126.2 912.5,124.2 912.0,123.1 911.5,122.5 911.0,121.6 910.5,120.4 910.0,119.5 909.5,118.7 909.0,117.6 908.5,117.8 908.0,118.6 907.5,119.5 907.0,119.9 906.5,120.3 906.0,120.8 905.5,121.2 905.0,121.3 904.5,121.3 904.0,121.1 903.5,121.5 903.0,121.9 902.5,122.2 902.0,122.4 901.5,123.3 901.0,124.7 900.5,125.5 900.0,126.1 899.5,127.3 899.0,129.8 898.5,131.0 898.0,132.9 897.5,134.2 897.0,134.9 896.5,135.4 896.0,136.7 895.5,138.5 895.0,140.0 894.5,141.4 894.0,142.1 893.5,143.1 893.0,144.2 892.5,145.1 892.0,145.9 891.5,146.6 891.0,147.2 890.5,147.9 890.0,150.1 889.5,151.0 889.0,151.6 888.5,152.9 888.0,154.2 887.5,155.4 887.0,156.6 886.5,157.6 886.0,159.4 885.5,160.7 885.0,162.0 884.5,163.3 884.0,164.1 883.5,166.3 883.0,167.9 882.5,168.7 882.0,169.4 881.5,170.9 881.0,172.3 880.5,173.9 880.0,174.9 879.5,175.5 879.0,176.3 878.5,177.9 878.0,178.9 877.5,181.1 877.0,183.3 876.5,184.9 876.0,185.9 875.5,186.4 875.0,186.8 874.5,187.6 874.0,188.9 873.5,189.9 873.0,190.9 872.5,191.6 872.0,191.9 871.5,192.0 871.0,192.3 870.5,192.9 870.0,193.5 869.5,194.1 869.0,194.6 868.5,194.9 868.0,194.9 867.5,194.9 867.0,194.8 866.5,195.2 866.0,195.6 865.5,196.0 865.0,196.1 864.5,196.1 864.0,196.0 863.5,195.9 863.0,196.5 862.5,197.0 862.0,197.4 861.5,197.8 861.0,198.2 860.5,198.5 860.0,198.8 859.5,199.1 859.0,199.4 858.5,199.6 858.0,199.8 857.5,199.8 857.0,199.9 856.5,200.0 856.0,200.4 855.5,201.0 855.0,201.7 854.5,202.3 854.0,202.8 853.5,202.9 853.0,202.7 852.5,202.4 852.0,202.1 851.5,201.8 851.0,202.4 850.5,203.8 850.0,204.8 849.5,205.3 849.0,205.7 848.5,206.3 848.0,207.0 847.5,207.7 847.0,208.0 846.5,208.0 846.0,208.1 845.5,208.3 845.0,208.5 844.5,208.6 844.0,208.6 843.5,208.8 843.0,208.9 842.5,209.0 842.0,208.9 841.5,208.5 841.0,207.9 840.5,207.0 840.0,206.1 839.5,205.5 839.0,205.1 838.5,204.7 838.0,204.2 837.5,203.4 837.0,203.2 836.5,203.0 836.0,202.6 835.5,201.1 835.0,201.0 834.5,200.6 834.0,199.9 833.5,199.1 833.0,198.2 832.5,197.4 832.0,196.9 831.5,196.6 831.0,196.4 830.5,196.8 830.0,197.2 829.5,197.4 829.0,197.4 828.5,197.4 828.0,197.3 827.5,197.3 827.0,197.2 826.5,197.0 826.0,196.8 825.5,196.5 825.0,196.1 824.5,195.4 824.0,194.6 823.5,194.3 823.0,194.4 822.5,194.4 822.0,194.6 821.5,194.7 821.0,194.5 820.5,194.0 820.0,193.4 819.5,192.8 819.0,192.2 818.5,192.4 818.0,192.5 817.5,192.6 817.0,192.5 816.5,192.4 816.0,192.3 815.5,192.1 815.0,191.7 814.5,191.1 814.0,191.2 813.5,191.4 813.0,191.7 812.5,191.8 812.0,191.7 811.5,191.3 811.0,191.1 810.5,191.1 810.0,191.4 809.5,191.5 809.0,191.5 808.5,191.5 808.0,191.5 807.5,191.4 807.0,191.3 806.5,192.0 806.0,193.1 805.5,193.8 805.0,194.1 804.5,194.2 804.0,194.2 803.5,194.2 803.0,194.3 802.5,194.6 802.0,194.9 801.5,195.2 801.0,195.4 800.5,195.6 800.0,195.9 799.5,196.2 799.0,196.4 798.5,196.6 798.0,196.8 797.5,197.1 797.0,197.2 796.5,197.2 796.0,197.3 795.5,197.9 795.0,198.4 794.5,198.8 794.0,199.0 793.5,199.1 793.0,199.1 792.5,199.1 792.0,199.1 791.5,199.0 791.0,198.5 790.5,197.7 790.0,196.7 789.5,195.7 789.0,195.5 788.5,195.4 788.0,195.2 787.5,194.9 787.0,194.3 786.5,193.4 786.0,192.4 785.5,191.4 785.0,189.9 784.5,189.5 784.0,188.7 783.5,187.5 783.0,184.9 782.5,182.8 782.0,182.0 781.5,180.9 781.0,179.0 780.5,175.9 780.0,174.9 779.5,173.7 779.0,171.2 778.5,168.6 778.0,167.4 777.5,165.6 777.0,161.8 776.5,160.0 776.0,153.9 775.5,151.8 775.0,149.6 774.5,147.4 774.0,145.8 773.5,144.1 773.0,140.2 772.5,137.5 772.0,135.9 771.5,133.8 771.0,132.4 770.5,129.5 770.0,128.4 769.5,126.4 769.0,124.9 768.5,123.8 768.0,120.0 767.5,119.1 767.0,117.9 766.5,116.7 766.0,115.6 765.5,113.1 765.0,110.8 764.5,108.0 764.0,105.5 763.5,103.2 763.0,100.6 762.5,98.6 762.0,97.4 761.5,96.0 761.0,92.1 760.5,89.3 760.0,88.5 759.5,86.9 759.0,85.8 758.5,85.9 758.0,86.0 757.5,86.1 757.0,86.3 756.5,86.3 756.0,86.2 755.5,85.8 755.0,85.3 754.5,84.8 754.0,85.6 753.5,86.3 753.0,87.6 752.5,89.0 752.0,90.1 751.5,91.5 751.0,93.1 750.5,94.3 750.0,95.0 749.5,95.3 749.0,95.4 748.5,95.2 748.0,95.2 747.5,95.3 747.0,95.4 746.5,95.4 746.0,95.2 745.5,96.2 745.0,97.1 744.5,97.5 744.0,97.6 743.5,99.2 743.0,100.6 742.5,102.7 742.0,104.2 741.5,104.9 741.0,107.6 740.5,108.7 740.0,109.7 739.5,110.5 739.0,111.4 738.5,111.9 738.0,112.7 737.5,113.8 737.0,114.8 736.5,115.4 736.0,116.2 735.5,117.3 735.0,118.2 734.5,120.3 734.0,121.4 733.5,122.0 733.0,123.4 732.5,125.0 732.0,126.1 731.5,128.5 731.0,130.0 730.5,130.9 730.0,131.4 729.5,131.6 729.0,132.0 728.5,132.7 728.0,133.1 727.5,133.3 727.0,133.4 726.5,134.1 726.0,135.0 725.5,135.7 725.0,136.3 724.5,136.5 724.0,136.4 723.5,136.0 723.0,135.3 722.5,134.6 722.0,134.7 721.5,135.0 721.0,135.1 720.5,135.0 720.0,135.3 719.5,135.5 719.0,136.6 718.5,137.5 718.0,138.0 717.5,138.6 717.0,139.6 716.5,142.3 716.0,145.0 715.5,146.2 715.0,147.0 714.5,147.3 714.0,147.6 713.5,148.6 713.0,149.1 712.5,149.5 712.0,149.9 711.5,150.3 711.0,150.8 710.5,151.3 710.0,151.7 709.5,152.0 709.0,152.1 708.5,152.0 708.0,151.7 707.5,151.5 707.0,151.2 706.5,151.0 706.0,151.1 705.5,151.5 705.0,152.0 704.5,152.7 704.0,153.7 703.5,154.4 703.0,155.0 702.5,155.2 702.0,155.2 701.5,155.0 701.0,154.7 700.5,154.2 700.0,154.0 699.5,153.9 699.0,153.9 698.5,153.7 698.0,153.3 697.5,152.5 697.0,151.3 696.5,150.1 696.0,150.0 695.5,150.6 695.0,151.3 694.5,152.1 694.0,152.7 693.5,153.3 693.0,153.8 692.5,154.5 692.0,155.1 691.5,155.5 691.0,155.8 690.5,156.2 690.0,156.6 689.5,157.0 689.0,157.2 688.5,157.2 688.0,156.9 687.5,157.3 687.0,158.4 686.5,159.5 686.0,160.5 685.5,161.0 685.0,161.3 684.5,162.3 684.0,163.5 683.5,164.3 683.0,165.0 682.5,165.5 682.0,166.0 681.5,166.4 681.0,166.8 680.5,167.3 680.0,167.7 679.5,168.0 679.0,168.1 678.5,168.1 678.0,167.9 677.5,167.4 677.0,166.6 676.5,165.8 676.0,164.0 675.5,163.2 675.0,162.6 674.5,161.9 674.0,160.6 673.5,160.3 673.0,161.6 672.5,162.6 672.0,163.6 671.5,164.0 671.0,164.2 670.5,164.2 670.0,164.4 669.5,164.4 669.0,164.5 668.5,164.4 668.0,164.4 667.5,164.2 667.0,163.8 666.5,163.0 666.0,161.6 665.5,161.3 665.0,161.7 664.5,162.1 664.0,163.1 663.5,163.7 663.0,164.0 662.5,164.6 662.0,165.4 661.5,166.0 661.0,166.5 660.5,166.9 660.0,167.3 659.5,167.7 659.0,168.7 658.5,171.7 658.0,173.4 657.5,175.4 657.0,177.5 656.5,178.5 656.0,179.8 655.5,183.5 655.0,184.7 654.5,185.4 654.0,187.0 653.5,189.8 653.0,190.8 652.5,191.8 652.0,196.2 651.5,197.3 651.0,199.1 650.5,200.8 650.0,202.2 649.5,203.6 649.0,205.5 648.5,207.0 648.0,207.9 647.5,209.8 647.0,213.1 646.5,214.7 646.0,215.1 645.5,215.3 645.0,215.3 644.5,215.1 644.0,214.6 643.5,214.7 643.0,214.7 642.5,214.6 642.0,214.3 641.5,214.8 641.0,216.1 640.5,217.1 640.0,217.6 639.5,220.9 639.0,222.1 638.5,222.9 638.0,223.7 637.5,225.2 637.0,229.0 636.5,232.5 636.0,233.2 635.5,233.5 635.0,233.6 634.5,233.5 634.0,233.2 633.5,232.5 633.0,226.9 632.5,228.3 632.0,230.3 631.5,231.3 631.0,235.6 630.5,240.9 630.0,243.9 629.5,244.4 629.0,244.5 628.5,244.6 628.0,244.4 627.5,244.0 627.0,241.8 626.5,235.6 626.0,231.7 625.5,230.9 625.0,229.7 624.5,228.7 624.0,226.9 623.5,225.6 623.0,225.9 622.5,225.8 622.0,225.4 621.5,225.5 621.0,225.9 620.5,226.1 620.0,226.0 619.5,225.7 619.0,225.1 618.5,224.0 618.0,222.3 617.5,220.4 617.0,218.7 616.5,216.8 616.0,214.8 615.5,212.9 615.0,212.2 614.5,211.6 614.0,211.0 613.5,209.9 613.0,209.5 612.5,208.9 612.0,207.4 611.5,206.7 611.0,205.5 610.5,199.5 610.0,198.8 609.5,198.2 609.0,197.1 608.5,199.1 608.0,200.6 607.5,204.2 607.0,205.4 606.5,206.5 606.0,209.5 605.5,211.4 605.0,215.5 604.5,217.8 604.0,219.2 603.5,222.4 603.0,224.8 602.5,229.9 602.0,232.0 601.5,235.6 601.0,238.8 600.5,240.2 600.0,241.2 599.5,242.2 599.0,242.9 598.5,245.7 598.0,246.6 597.5,247.5 597.0,248.4 596.5,249.3 596.0,249.9 595.5,250.2 595.0,250.1 594.5,251.0 594.0,255.5 593.5,261.0 593.0,262.1 592.5,265.6 592.0,267.1 591.5,271.0 591.0,276.2 590.5,280.0 590.0,282.3 589.5,285.0 589.0,287.6 588.5,289.2 588.0,290.1 587.5,292.8 587.0,295.3 586.5,297.0 586.0,299.1 585.5,304.1 585.0,306.5 584.5,308.0 584.0,310.4 583.5,311.6 583.0,313.7 582.5,315.0 582.0,316.8 581.5,318.1 581.0,319.1 580.5,320.0 580.0,320.7 579.5,321.3 579.0,321.7 578.5,322.1 578.0,322.4 577.5,322.5 577.0,323.5 576.5,324.3 576.0,324.8 575.5,325.0 575.0,325.5 574.5,326.4 574.0,327.4 573.5,328.3 573.0,329.1 572.5,329.7 572.0,330.1 571.5,330.3 571.0,330.7 570.5,331.1 570.0,331.6 569.5,331.9 569.0,332.0 568.5,332.0 568.0,332.6 567.5,333.5 567.0,334.3 566.5,335.2 566.0,335.8 565.5,336.3 565.0,336.7 564.5,337.0 564.0,337.2 563.5,337.3 563.0,337.3 562.5,338.0 562.0,338.5 561.5,339.0 561.0,339.8 560.5,340.8 560.0,341.1 559.5,341.3 559.0,341.3 558.5,341.1 558.0,340.6 557.5,339.6 557.0,338.8 556.5,337.6 556.0,336.2 555.5,335.7 555.0,334.8 554.5,333.1 554.0,332.4 553.5,331.1 553.0,329.6 552.5,328.7 552.0,327.9 551.5,326.6 551.0,324.7 550.5,324.0 550.0,323.3 549.5,322.2 549.0,321.1 548.5,320.3 548.0,320.1 547.5,319.7 547.0,319.0 546.5,318.0 546.0,317.3 545.5,316.9 545.0,316.1 544.5,314.6 544.0,313.3 543.5,312.9 543.0,312.3 542.5,311.3 542.0,308.8 541.5,306.2 541.0,306.7 540.5,307.8 540.0,309.2 539.5,310.4 539.0,311.2 538.5,313.2 538.0,315.2 537.5,316.6 537.0,317.8 536.5,318.7 536.0,319.3 535.5,320.5 535.0,321.2 534.5,321.5 534.0,321.5 533.5,321.4 533.0,321.2 532.5,321.1 532.0,321.1 531.5,321.2 531.0,321.9 530.5,322.1 530.0,322.2 529.5,322.1 529.0,321.9 528.5,321.2 528.0,319.3 527.5,318.0 527.0,317.6 526.5,316.9 526.0,315.5 525.5,314.8 525.0,314.2 524.5,313.0 524.0,310.0 523.5,309.8 523.0,309.4 522.5,309.2 522.0,309.2 521.5,309.1 521.0,309.0 520.5,308.9 520.0,308.6 519.5,308.3 519.0,307.8 518.5,307.2 518.0,306.4 517.5,305.7 517.0,305.0 516.5,304.2 516.0,303.1 515.5,302.5 515.0,301.8 514.5,300.4 514.0,298.4 513.5,297.7 513.0,296.6 512.5,295.3 512.0,293.1 511.5,291.6 511.0,290.2 510.5,289.5 510.0,288.4 509.5,288.2 509.0,289.0 508.5,290.0 508.0,291.7 507.5,293.7 507.0,295.0 506.5,296.2 506.0,297.6 505.5,299.8 505.0,301.5 504.5,302.3 504.0,302.9 503.5,304.0 503.0,305.1 502.5,305.9 502.0,306.7 501.5,307.6 501.0,308.4 500.5,310.9 500.0,311.9 499.5,312.5 499.0,314.1 498.5,315.0 498.0,319.3 497.5,320.9 497.0,321.7 496.5,322.1 496.0,322.1 495.5,322.4 495.0,323.2 494.5,323.9 494.0,324.2 493.5,324.3 493.0,324.2 492.5,323.9 492.0,323.6 491.5,323.4 491.0,323.1 490.5,322.9 490.0,322.5 489.5,322.6 489.0,322.6 488.5,323.3 488.0,324.4 487.5,324.8 487.0,325.0 486.5,325.0 486.0,324.9 485.5,324.5 485.0,323.7 484.5,324.7 484.0,326.5 483.5,328.3 483.0,330.6 482.5,332.6 482.0,333.5 481.5,335.7 481.0,339.1 480.5,340.7 480.0,341.1 479.5,341.3 479.0,341.3 478.5,341.1 478.0,340.6 477.5,339.0 477.0,336.7 476.5,335.7 476.0,334.9 475.5,333.9 475.0,333.1 474.5,332.4 474.0,331.2 473.5,328.6 473.0,326.9 472.5,326.1 472.0,324.6 471.5,323.8 471.0,322.1 470.5,318.3 470.0,317.2 469.5,314.7 469.0,312.7 468.5,311.2 468.0,310.1 467.5,307.8 467.0,303.8 466.5,301.3 466.0,298.6 465.5,297.2 465.0,292.3 464.5,289.1 464.0,286.7 463.5,284.4 463.0,280.6 462.5,275.1 462.0,273.5 461.5,272.3 461.0,270.5 460.5,267.9 460.0,266.6 459.5,263.9 459.0,262.6 458.5,261.8 458.0,261.1 457.5,259.9 457.0,258.1 456.5,256.8 456.0,254.5 455.5,253.0 455.0,251.6 454.5,250.3 454.0,247.6 453.5,246.7 453.0,244.0 452.5,242.9 452.0,242.1 451.5,240.7 451.0,239.1 450.5,237.0 450.0,236.2 449.5,234.7 449.0,232.6 448.5,230.9 448.0,229.9 447.5,228.8 447.0,226.7 446.5,223.7 446.0,222.3 445.5,220.6 445.0,219.6 444.5,218.3 444.0,218.3 443.5,218.5 443.0,218.9 442.5,219.2 442.0,219.3 441.5,219.2 441.0,219.0 440.5,218.6 440.0,218.2 439.5,217.7 439.0,217.7 438.5,218.0 438.0,218.4 437.5,218.8 437.0,219.5 436.5,220.2 436.0,220.9 435.5,221.6 435.0,222.2 434.5,222.9 434.0,223.4 433.5,223.7 433.0,224.1 432.5,224.3 432.0,224.5 431.5,225.5 431.0,226.5 430.5,227.3 430.0,229.0 429.5,230.0 429.0,231.1 428.5,232.3 428.0,233.4 427.5,234.0 427.0,234.7 426.5,236.5 426.0,240.9 425.5,242.0 425.0,242.9 424.5,243.7 424.0,246.3 423.5,247.7 423.0,249.3 422.5,250.7 422.0,251.1 421.5,251.3 421.0,252.0 420.5,252.5 420.0,252.8 419.5,253.0 419.0,253.1 418.5,253.2 418.0,254.2 417.5,255.2 417.0,255.9 416.5,256.2 416.0,256.2 415.5,257.9 415.0,258.9 414.5,259.4 414.0,259.7 413.5,260.0 413.0,260.6 412.5,261.3 412.0,262.2 411.5,262.9 411.0,263.6 410.5,264.0 410.0,264.3 409.5,264.4 409.0,264.4 408.5,264.4 408.0,264.3 407.5,264.2 407.0,263.9 406.5,263.5 406.0,263.0 405.5,262.6 405.0,262.4 404.5,263.0 404.0,263.6 403.5,264.0 403.0,264.3 402.5,264.3 402.0,264.2 401.5,264.0 401.0,263.6 400.5,263.2 400.0,262.7 399.5,262.2 399.0,262.2 398.5,262.8 398.0,263.3 397.5,264.0 397.0,264.8 396.5,265.3 396.0,265.6 395.5,266.0 395.0,266.2 394.5,266.5 394.0,266.8 393.5,267.0 393.0,267.2 392.5,267.3 392.0,267.4 391.5,267.4 391.0,267.2 390.5,266.7 390.0,266.1 389.5,265.2 389.0,264.9 388.5,264.3 388.0,263.9 387.5,263.7 387.0,263.5 386.5,262.9 386.0,262.0 385.5,260.6 385.0,258.6 384.5,258.1 384.0,257.9 383.5,257.5 383.0,256.7 382.5,255.3 382.0,255.4 381.5,255.6 381.0,255.9 380.5,256.2 380.0,256.9 379.5,257.6 379.0,258.1 378.5,258.5 378.0,258.9 377.5,259.2 377.0,259.4 376.5,260.0 376.0,260.4 375.5,260.5 375.0,260.5 374.5,260.3 374.0,259.9 373.5,258.7 373.0,257.3 372.5,256.6 372.0,256.1 371.5,255.4 371.0,254.6 370.5,253.7 370.0,252.8 369.5,251.9 369.0,251.5 368.5,250.9 368.0,250.3 367.5,250.1 367.0,250.2 366.5,251.0 366.0,251.6 365.5,252.2 365.0,252.9 364.5,253.6 364.0,255.1 363.5,256.5 363.0,257.5 362.5,258.3 362.0,259.7 361.5,260.8 361.0,261.4 360.5,261.8 360.0,262.1 359.5,262.3 359.0,262.5 358.5,262.6 358.0,262.8 357.5,263.1 357.0,263.3 356.5,263.6 356.0,263.7 355.5,264.6 355.0,265.9 354.5,266.5 354.0,267.0 353.5,267.6 353.0,269.5 352.5,270.5 352.0,271.3 351.5,272.0 351.0,272.4 350.5,272.7 350.0,273.0 349.5,273.3 349.0,273.5 348.5,273.6 348.0,274.8 347.5,275.3 347.0,275.8 346.5,276.4 346.0,276.9 345.5,277.1 345.0,277.3 344.5,278.0 344.0,279.4 343.5,280.7 343.0,281.8 342.5,282.6 342.0,284.2 341.5,286.2 341.0,287.7 340.5,288.5 340.0,288.9 339.5,289.2 339.0,289.6 338.5,290.7 338.0,291.1 337.5,291.2 337.0,291.9 336.5,292.3 336.0,292.6 335.5,292.6 335.0,292.5 334.5,292.3 334.0,291.9 333.5,291.5 333.0,291.3 332.5,291.1 332.0,290.6 331.5,289.3 331.0,288.3 330.5,287.2 330.0,286.8 329.5,286.3 329.0,285.7 328.5,284.6 328.0,281.4 327.5,280.8 327.0,279.7 326.5,278.5 326.0,277.5 325.5,275.5 325.0,274.7 324.5,274.3 324.0,273.7 323.5,273.2 323.0,272.7 322.5,272.0 322.0,271.3 321.5,270.6 321.0,269.8 320.5,268.9 320.0,267.6 319.5,264.9 319.0,264.0 318.5,263.0 318.0,261.8 317.5,259.2 317.0,258.3 316.5,257.6 316.0,256.2 315.5,251.5 315.0,249.8 314.5,247.6 314.0,244.2 313.5,242.4 313.0,240.3 312.5,238.2 312.0,234.5 311.5,233.1 311.0,231.6 310.5,227.4 310.0,225.3 309.5,222.7 309.0,219.1 308.5,218.1 308.0,217.3 307.5,215.5 307.0,213.8 306.5,210.3 306.0,209.6 305.5,208.8 305.0,206.6 304.5,205.5 304.0,204.2 303.5,203.0 303.0,199.1 302.5,196.3 302.0,194.3 301.5,192.3 301.0,189.3 300.5,187.4 300.0,186.2 299.5,183.4 299.0,182.7 298.5,183.4 298.0,183.7 297.5,184.0 297.0,184.4 296.5,184.7 296.0,184.7 295.5,184.5 295.0,184.2 294.5,183.7 294.0,183.2 293.5,183.2 293.0,183.0 292.5,182.7 292.0,182.3 291.5,183.3 291.0,184.7 290.5,186.0 290.0,188.2 289.5,188.6 289.0,189.4 288.5,190.0 288.0,190.5 287.5,190.8 287.0,190.9 286.5,190.8 286.0,190.6 285.5,190.1 285.0,189.8 284.5,190.2 284.0,191.0 283.5,193.2 283.0,194.8 282.5,196.3 282.0,197.5 281.5,198.5 281.0,200.5 280.5,201.6 280.0,202.2 279.5,202.8 279.0,203.5 278.5,204.1 278.0,204.7 277.5,205.5 277.0,206.5 276.5,207.9 276.0,208.7 275.5,209.4 275.0,210.2 274.5,210.6 274.0,210.7 273.5,212.6 273.0,213.9 272.5,214.8 272.0,216.3 271.5,217.4 271.0,218.0 270.5,218.2 270.0,219.3 269.5,220.2 269.0,222.1 268.5,223.0 268.0,223.5 267.5,223.9 267.0,224.3 266.5,224.6 266.0,224.8 265.5,224.9 265.0,224.8 264.5,224.7 264.0,224.6 263.5,224.6 263.0,225.9 262.5,227.0 262.0,228.3 261.5,229.3 261.0,229.8 260.5,230.1 260.0,230.2 259.5,230.8 259.0,231.4 258.5,231.9 258.0,232.2 257.5,232.3 257.0,232.2 256.5,232.0 256.0,231.8 255.5,231.5 255.0,231.1 254.5,230.6 254.0,230.0 253.5,229.1 253.0,227.9 252.5,228.0 252.0,227.9 251.5,227.6 251.0,226.8 250.5,225.4 250.0,222.5 249.5,222.4 249.0,222.2 248.5,221.8 248.0,221.1 247.5,219.8 247.0,218.1 246.5,217.1 246.0,214.8 245.5,213.7 245.0,212.7 244.5,211.8 244.0,211.3 243.5,210.6 243.0,209.6 242.5,208.7 242.0,207.5 241.5,206.4 241.0,205.9 240.5,205.9 240.0,205.8 239.5,205.6 239.0,205.1 238.5,204.2 238.0,203.4 237.5,202.6 237.0,202.2 236.5,201.8 236.0,201.1 235.5,200.3 235.0,199.1 234.5,198.6 234.0,198.1 233.5,197.0 233.0,195.0 232.5,193.0 232.0,192.8 231.5,192.3 231.0,191.6 230.5,191.6 230.0,191.4 229.5,191.3 229.0,191.5 228.5,191.5 228.0,191.7 227.5,192.2 227.0,193.9 226.5,195.2 226.0,195.8 225.5,197.8 225.0,199.1 224.5,200.0 224.0,200.7 223.5,201.1 223.0,201.4 222.5,201.5 222.0,201.5 221.5,201.2 221.0,200.7 220.5,200.4 220.0,200.0 219.5,199.6 219.0,198.8 218.5,198.9 218.0,199.1 217.5,198.9 217.0,198.5 216.5,198.1 216.0,197.7 215.5,197.1 215.0,196.3 214.5,195.0 214.0,194.3 213.5,193.1 213.0,191.2 212.5,189.4 212.0,188.1 211.5,187.6 211.0,188.0 210.5,189.5 210.0,190.3 209.5,190.7 209.0,191.2 208.5,191.5 208.0,191.6 207.5,191.8 207.0,192.2 206.5,192.5 206.0,192.7 205.5,193.4 205.0,193.7 204.5,193.8 204.0,193.8 203.5,196.5 203.0,197.2 202.5,197.5 202.0,197.6 201.5,197.5 201.0,197.2 200.5,196.5 200.0,193.4 199.5,191.3 199.0,190.7 198.5,189.7 198.0,188.1 197.5,186.7 197.0,185.8 196.5,185.6 196.0,185.7 195.5,188.5 195.0,189.2 194.5,189.5 194.0,189.5 193.5,189.5 193.0,189.2 192.5,188.5 192.0,185.6 191.5,182.4 191.0,180.7 190.5,179.5 190.0,176.9 189.5,175.7 189.0,173.8 188.5,170.1 188.0,168.8 187.5,167.6 187.0,166.1 186.5,164.7 186.0,162.6"/>
<g clip-path="url(#c)" fill="none" stroke="#000" stroke-width="3.125" stroke-dasharray="11.5625 5">
<path d="M194.5 383.5V54"/>
<path d="M347.5 383.5V54"/>
<path d="M501.5 383.5V54"/>
<path d="M654.5 383.5V54"/>
<path d="M807.5 383.5V54"/>
<path d="M961.5 383.5V54"/>
<path d="M1114.5 383.5V54"/>
</g>
<text class="d" x="198.70" y="86.85">02/09</text>
<text class="d" x="353.00" y="86.85">02/10</text>
<text class="d" x="506.10" y="86.85">02/11</text>
<text class="d" x="659.10" y="86.85">02/12</text>
<text class="d" x="813.00" y="86.85">02/13</text>
<text class="d" x="966.00" y="86.85">02/14</text>
<text class="d" x="1119.70" y="86.85">02/15</text>
<g fill="#000" shape-rendering="crispEdges">
<rect x="187" y="53" width="1164" height="2"/>
<rect x="187" y="382" width="1164" height="2"/>
<rect x="187" y="53" width="2" height="331"/>
<rect x="1349" y="53" width="2" height="331"/>
</g>
<g fill="#000" fill-opacity=".835" shape-rendering="crispEdges">
<rect x="187" y="384" width="2" height="6"/>
<rect x="276" y="384" width="2" height="6"/>
<rect x="365" y="384" width="2" height="6"/>
<rect x="455" y="384" width="2" height="6"/>
<rect x="544" y="384" width="2" height="6"/>
<rect x="634" y="384" width="2" height="6"/>
<rect x="723" y="384" width="2" height="6"/>
<rect x="812" y="384" width="2" height="6"/>
<rect x="902" y="384" width="2" height="6"/>
<rect x="991" y="384" width="2" height="6"/>
<rect x="1081" y="384" width="2" height="6"/>
<rect x="1170" y="384" width="2" height="6"/>
<rect x="1260" y="384" width="2" height="6"/>
<rect x="1349" y="384" width="2" height="6"/>
<rect x="181" y="382" width="6" height="2"/>
<rect x="1351" y="382" width="6" height="2"/>
<rect x="181" y="316" width="6" height="2"/>
<rect x="1351" y="316" width="6" height="2"/>
<rect x="181" y="250" width="6" height="2"/>
<rect x="1351" y="250" width="6" height="2"/>
<rect x="181" y="184" width="6" height="2"/>
<rect x="1351" y="184" width="6" height="2"/>
<rect x="181" y="119" width="6" height="2"/>
<rect x="1351" y="119" width="6" height="2"/>
<rect x="181" y="53" width="6" height="2"/>
<rect x="1351" y="53" width="6" height="2"/>
</g>
<text x="187.30" y="412.91" text-anchor="middle">23</text>
<text x="276.72" y="412.91" text-anchor="middle">12</text>
<text x="366.15" y="412.91" text-anchor="middle">2</text>
<text x="455.57" y="412.91" text-anchor="middle">16</text>
<text x="544.99" y="412.91" text-anchor="middle">6</text>
<text x="634.42" y="412.91" text-anchor="middle">20</text>
<text x="723.84" y="412.91" text-anchor="middle">10</text>
<text x="813.26" y="412.91" text-anchor="middle">0</text>
<text x="902.68" y="412.91" text-anchor="middle">14</text>
<text x="992.11" y="412.91" text-anchor="middle">4</text>
<text x="1081.53" y="412.91" text-anchor="middle">18</text>
<text x="1170.95" y="412.91" text-anchor="middle">8</text>
<text x="1260.38" y="412.91" text-anchor="middle">22</text>
<text x="1349.80" y="412.91" text-anchor="middle">12</text>
<text x="172.2" y="390.42" text-anchor="end">1015.0</text>
<text x="1364.2" y="390.42">29.98</text>
<text x="172.2" y="324.72" text-anchor="end">1017.4</text>
<text x="1364.2" y="324.72">30.05</text>
<text x="172.2" y="259.01" text-anchor="end">1019.8</text>
<text x="1364.2" y="259.01">30.12</text>
<text x="172.2" y="193.31" text-anchor="end">1022.2</text>
<text x="1364.2" y="193.31">30.19</text>
<text x="172.2" y="127.61" text-anchor="end">1024.6</text>
<text x="1364.2" y="127.61">30.26</text>
<text x="172.2" y="61.91" text-anchor="end">1027.0</text>
<text x="1364.2" y="61.91">30.33</text>
<text x="768.6" y="441.41" text-anchor="middle" xml:space="preserve" style="white-space:pre">02/08/26-02/15/26  Hours(UTC)</text>
<text transform="translate(89.35 220.5) rotate(-90)" text-anchor="middle">mb</text>
<text transform="translate(1448.39 220.2) rotate(-90)" text-anchor="middle">Inches of Mercury</text>
<rect x="188" y="11" width="425" height="36" rx="4.17" ry="4.17" fill="#fff" fill-opacity=".8" stroke="#ccc" stroke-opacity=".8" stroke-width="2.0833"/>
<path d="M196.5 28.5H238.5" fill="none" stroke="#0000ff" stroke-width="3.125" stroke-linecap="square"/>
<text x="254.6" y="34.76">2m MSL Pressure</text>
<g shape-rendering="crispEdges" fill="#808080" fill-opacity=".18"><rect x="480" y="21" width="42" height="14"/><path d="M479 20H523V36H479ZM480 21V35H522V21Z" fill-rule="evenodd" fill-opacity=".15"/><path d="M480 21H522V35H480ZM481 22V34H521V22Z" fill-rule="evenodd" fill-opacity=".1"/></g>
<text x="538.7" y="34.76">NIGHT</text>
</svg></body></html>
